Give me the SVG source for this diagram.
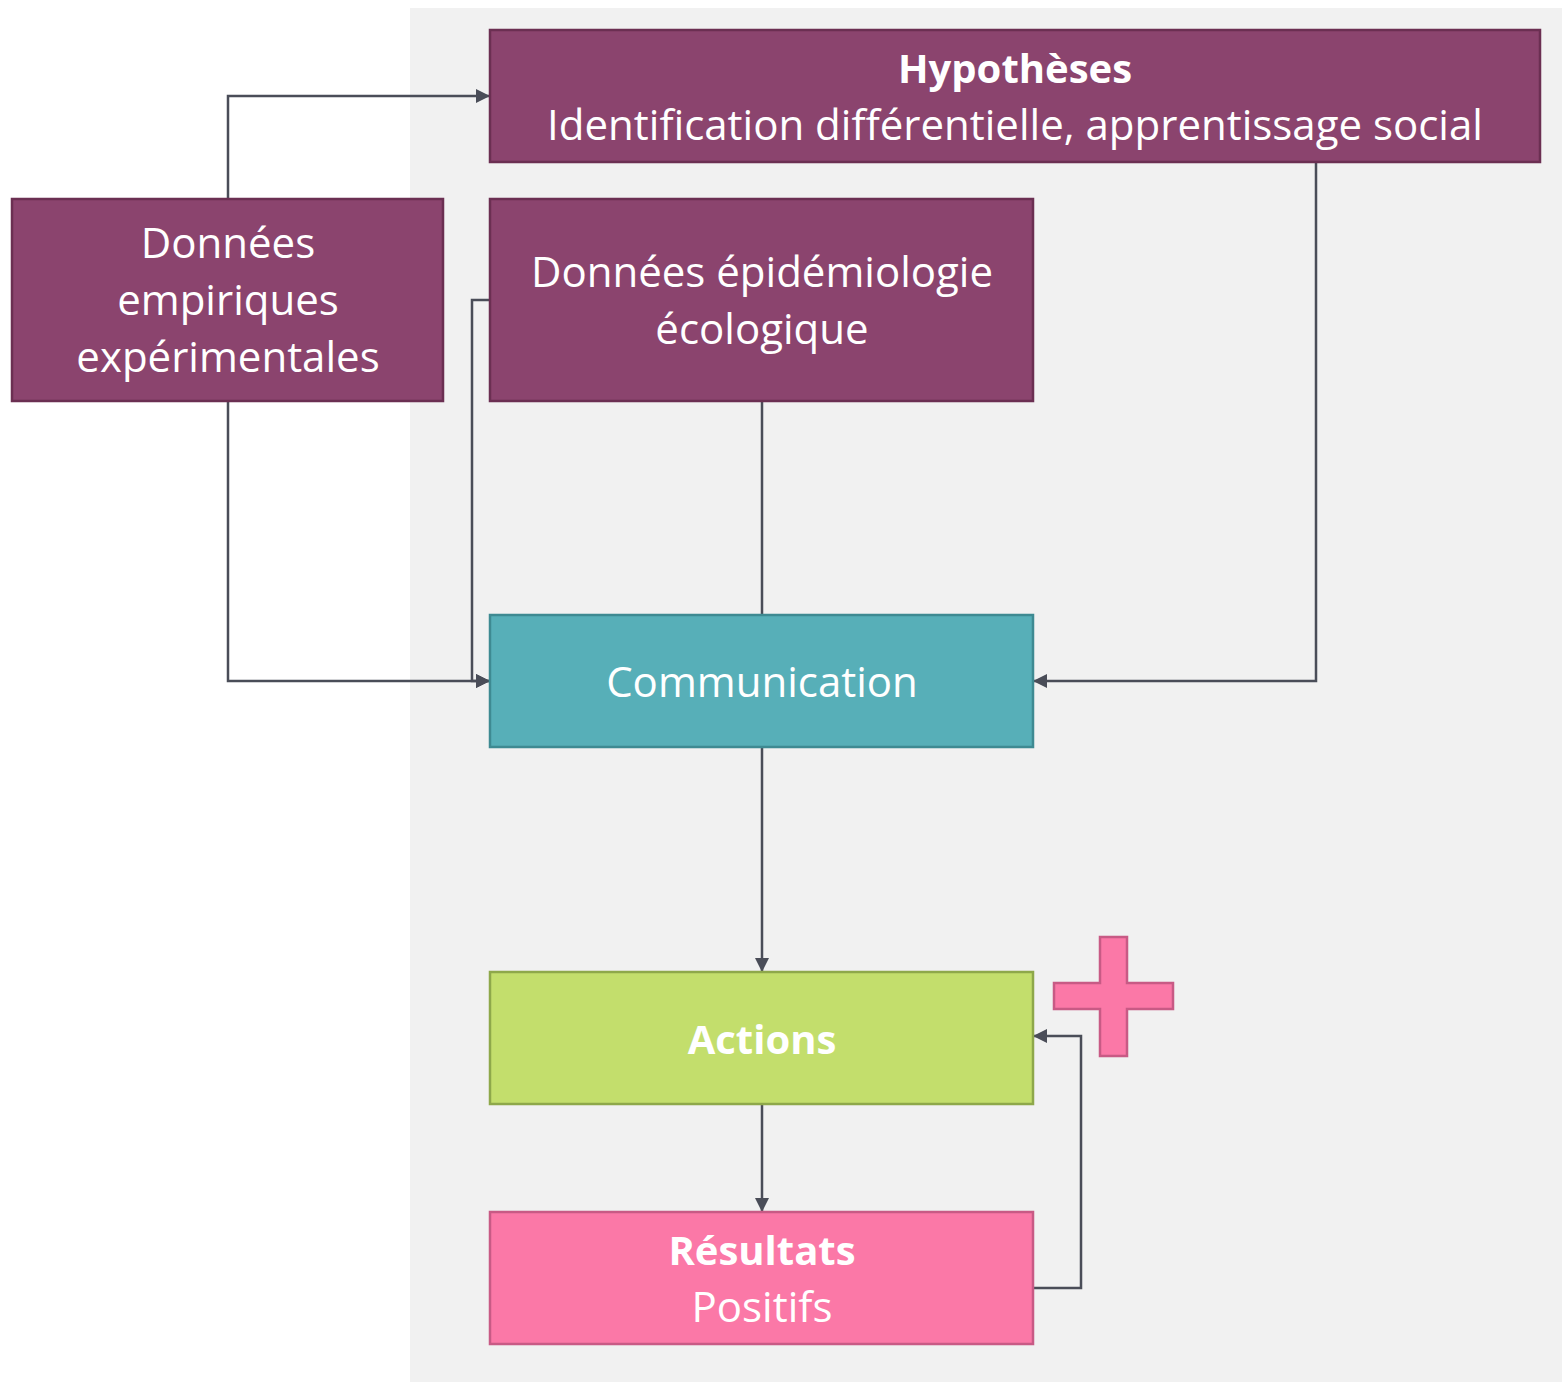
<svg xmlns="http://www.w3.org/2000/svg" width="1562" height="1382" viewBox="0 0 1562 1382">
<style>
.t{font-family:"Open Sans","Noto Sans","Liberation Sans",sans-serif;font-size:42px;fill:#fff;text-anchor:middle}
.b{font-weight:bold;font-size:40px}
.pur{fill:#8B446E;stroke:#6B2F52;stroke-width:2.5}
.c{fill:none;stroke:#4A4D58;stroke-width:2.5}
</style>
<defs>
<marker id="ar" viewBox="0 0 10 10" refX="10" refY="5" markerWidth="15" markerHeight="14" markerUnits="userSpaceOnUse" orient="auto"><path d="M0,0L10,5L0,10z" fill="#4A4D58"/></marker>
</defs>
<rect x="0" y="0" width="1562" height="1382" fill="#fff"/>
<rect x="410" y="8" width="1152" height="1374" fill="#F1F1F1"/>
<g id="connectors">
<path class="c" d="M228,199V96H490" marker-end="url(#ar)"/>
<path class="c" d="M228,401V681H490" marker-end="url(#ar)"/>
<path class="c" d="M490,300H472V681H490" marker-end="url(#ar)"/>
<path class="c" d="M762,401V615"/>
<path class="c" d="M1316,162V681H1033" marker-end="url(#ar)"/>
<path class="c" d="M762,747V972" marker-end="url(#ar)"/>
<path class="c" d="M762,1104V1212" marker-end="url(#ar)"/>
<path class="c" d="M1033,1288H1081V1036H1033" marker-end="url(#ar)"/>
</g>
<g id="hypotheses">
<rect class="pur" x="490" y="30" width="1050" height="132"/>
<text class="t b" x="1015" y="83">Hypothèses</text>
<text class="t" x="1015" y="140">Identification différentielle, apprentissage social</text>
</g>
<g id="donnees-empiriques">
<rect class="pur" x="12" y="199" width="431" height="202"/>
<text class="t" x="228" y="258">Données</text>
<text class="t" x="228" y="315">empiriques</text>
<text class="t" x="228" y="372">expérimentales</text>
</g>
<g id="donnees-epidemiologie">
<rect class="pur" x="490" y="199" width="543" height="202"/>
<text class="t" x="762" y="287">Données épidémiologie</text>
<text class="t" x="762" y="344">écologique</text>
</g>
<g id="communication">
<rect x="490" y="615" width="543" height="132" fill="#57AFB8" stroke="#3E8A92" stroke-width="2.5"/>
<text class="t" x="762" y="697">Communication</text>
</g>
<g id="actions">
<rect x="490" y="972" width="543" height="132" fill="#C3DE6C" stroke="#8EA84A" stroke-width="2.5"/>
<text class="t b" x="762" y="1054">Actions</text>
</g>
<g id="resultats">
<rect x="490" y="1212" width="543" height="132" fill="#FB78A7" stroke="#C85A85" stroke-width="2.5"/>
<text class="t b" x="762" y="1265">Résultats</text>
<text class="t" x="762" y="1322">Positifs</text>
</g>
<g id="plus">
<path d="M1100,937H1127V983H1173V1009H1127V1056H1100V1009H1054V983H1100Z" fill="#FB78A7" stroke="#C85A85" stroke-width="2.5"/>
</g>
</svg>
